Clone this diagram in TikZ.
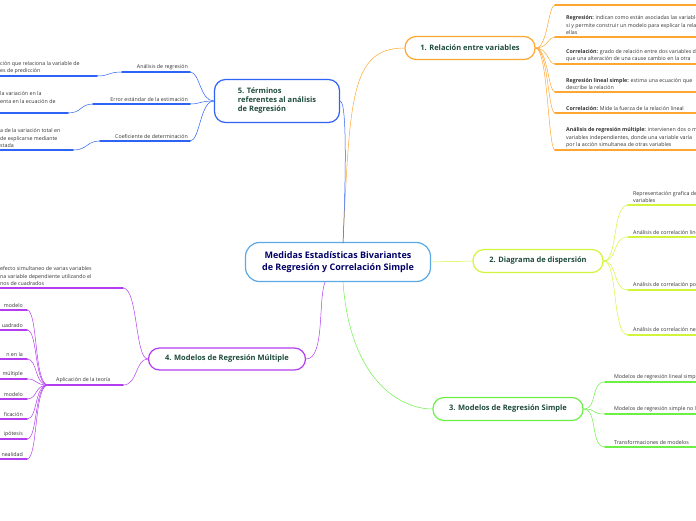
\documentclass[tikz,border=0pt]{standalone}
\usepackage{fontspec}
\setmainfont{Open Sans}
\usetikzlibrary{positioning}
\definecolor{orangeb}{HTML}{FFA631}
\definecolor{limeb}{HTML}{D2F53C}
\definecolor{greenb}{HTML}{6CF046}
\definecolor{purpleb}{HTML}{B43CF0}
\definecolor{blueb}{HTML}{2F63F5}
\definecolor{centerb}{HTML}{5AA9E6}
\definecolor{titletext}{HTML}{1E4B3C}
\definecolor{leaftext}{HTML}{333333}

\begin{document}
\begin{tikzpicture}[x=1pt, y=-1pt, line cap=round]
        \tikzstyle{topic} = [
            draw, line width=1.2pt, rounded corners=11pt,
            fill=white, text=titletext,
            font=\fontsize{7.5}{9}\selectfont\bfseries,
            inner xsep=8pt
        ]
        \tikzstyle{leaf} = [
            anchor=south west, inner xsep=0pt, inner ysep=2pt,
            text=leaftext, align=left,
            font=\fontsize{5.3}{7.5}\selectfont
        ]
        \tikzstyle{link} = [line width=0.5pt]
        \tikzstyle{uline} = [line width=1.8pt]

        \useasboundingbox (0,0) rectangle (696,520);

        % central topic
        \node[draw=centerb, line width=1.2pt, rounded corners=14pt, fill=white,
              text=blue!40!black, align=center, minimum width=185pt, minimum height=39pt,
              font=\fontsize{9}{12}\selectfont\bfseries] (center) at (338,262)
              {Medidas Estadísticas Bivariantes\\de Regresión y Correlación Simple};
        \coordinate (c1) at (343,243);
        \coordinate (c3) at (343,282);
        \coordinate (c4) at (325,282);

        % 1. Relacion entre variables
        \node[topic, draw=orangeb, minimum width=130pt, minimum height=23pt] (t1) at (470,48) {1. Relación entre variables};
        \draw[link, orangeb] (c1) .. controls (350,100) and (350,48) .. (t1.west);
        \foreach \y/\txt [count=\i] in {
            5/{},
            37/{\textbf{Regresión:} indican como están asociadas las variables entre\\si y permite construir un modelo para explicar la relación entre\\ellas},
            64/{\textbf{Correlación:} grado de relación entre dos variables de modo\\que una alteración de una cause cambio en la otra},
            92/{\textbf{Regresión lineal simple:} estima una ecuación que\\describe la relación},
            113/{\textbf{Correlación:} Mide la fuerza de la relación lineal},
            150/{\textbf{Análisis de regresión múltiple:} intervienen dos o más\\variables independientes, donde una variable varía\\por la acción simultanea de otras variables}} {
            \node[leaf] (r\i) at (566,\y) {\txt};
            \draw[uline, orangeb] (555,\y) -- (700,\y);
            \draw[link, orangeb] (t1.east) .. controls (548,48) and (548,\y) .. (555,\y);
        }

        % 2. Diagrama de dispersion
        \node[topic, draw=limeb, minimum width=130pt, minimum height=23pt] (t2) at (538,261) {2. Diagrama de dispersión};
        \draw[link, limeb] (center.east) -- (t2.west);
        \foreach \y/\txt [count=\i] in {
            205/{Representación grafica de la relación entre dos\\variables},
            237/{Análisis de correlación lineal},
            290/{Análisis de correlación positiva},
            335/{Análisis de correlación negativa}} {
            \node[leaf] (d\i) at (633,\y) {\txt};
            \draw[uline, limeb] (628,\y) -- (700,\y);
            \draw[link, limeb] (t2.east) .. controls (618,261) and (612,\y) .. (628,\y);
        }

        % 3. Modelos de Regresion Simple
        \node[topic, draw=greenb, minimum width=150pt, minimum height=23pt] (t3) at (508,409) {3. Modelos de Regresión Simple};
        \draw[link, greenb] (c3) .. controls (350,380) and (400,409) .. (t3.west);
        \foreach \y/\txt [count=\i] in {
            382/{Modelos de regresión lineal simple},
            414/{Modelos de regresión simple no lineales},
            447/{Transformaciones de modelos}} {
            \node[leaf] (s\i) at (614,\y) {\txt};
            \draw[uline, greenb] (605,\y) -- (700,\y);
            \draw[link, greenb] (t3.east) .. controls (598,409) and (590,\y) .. (605,\y);
        }

        % 4. Modelos de Regresion Multiple
        \node[topic, draw=purpleb, minimum width=157pt, minimum height=22pt] (t4) at (227,359) {4. Modelos de Regresión Múltiple};
        \draw[link, purpleb] (t4.east) .. controls (325,359) and (318,300) .. (c4);
        \node[leaf] (m1) at (0,288) {efecto simultaneo de varias variables\\na variable dependiente utilizando el\\nos de cuadrados};
        \draw[uline, purpleb] (-5,288) -- (123,288);
        \draw[link, purpleb] (t4.west) .. controls (135,359) and (138,288) .. (123,288);
        \node[leaf] (m2) at (56,385) {Aplicación de la teoría};
        \draw[uline, purpleb] (48,385) -- (123,385);
        \draw[link, purpleb] (t4.west) .. controls (135,359) and (138,385) .. (123,385);
        \foreach \y/\txt [count=\i] in {
            310/{modelo}, 330/{uadrado}, 359/{n en la}, 379/{múltiple},
            399/{modelo}, 419/{ficación}, 439/{ipótesis}, 459/{nealidad}} {
            \node[leaf, anchor=south east] (a\i) at (23,\y) {\txt};
            \draw[uline, purpleb] (-5,\y) -- (27,\y);
            \draw[link, purpleb] (48,385) .. controls (34,385) and (38,\y) .. (27,\y);
        }

        % 5. Terminos referentes al analisis de Regresion
        \node[topic, draw=blueb, minimum width=125pt, minimum height=43pt, align=left] (t5) at (277,101)
              {5. Términos\\referentes al análisis\\de Regresión};
        \draw[link, blueb] (t5.east) .. controls (348,101) and (345,200) .. (c1);
        \foreach \y/\x/\txt [count=\i] in {
            72/122/{Análisis de regresión},
            104/93/{Error estándar de la estimación},
            141/100/{Coeficiente de determinación}} {
            \node[leaf, anchor=south east] (b\i) at (188,\y) {\txt};
            \draw[uline, blueb] (\x,\y) -- (190,\y);
            \draw[link, blueb] (t5.west) .. controls (200,101) and (200,\y) .. (190,\y);
        }
        \node[leaf] (e1) at (0,76) {ción que relaciona la variable de\\es de predicción};
        \draw[uline, blueb] (-5,76) -- (97,76);
        \draw[link, blueb] (122,72) .. controls (108,72) and (110,76) .. (97,76);
        \node[leaf] (e2) at (0,113) {la variación en la\\enta en la ecuación de\\\phantom{x}};
        \draw[uline, blueb] (-5,113) -- (68,113);
        \draw[link, blueb] (93,104) .. controls (80,104) and (82,113) .. (68,113);
        \node[leaf] (e3) at (0,150) {a de la variación total en\\de explicarse mediante\\stada};
        \draw[uline, blueb] (-5,150) -- (73,150);
        \draw[link, blueb] (100,141) .. controls (86,141) and (88,150) .. (73,150);
\end{tikzpicture}
\end{document}
